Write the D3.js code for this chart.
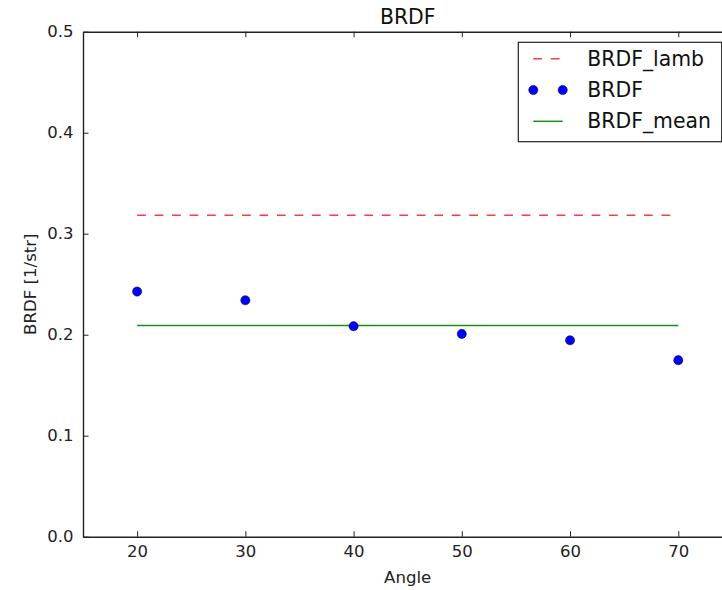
<!DOCTYPE html>
<html>
<head>
<meta charset="utf-8">
<script src="https://cdn.jsdelivr.net/npm/d3@7"></script>
<style>
  html, body { margin: 0; padding: 0; background: #fff; overflow: hidden; }
  svg { display: block; font-family: "DejaVu Sans", sans-serif; }
</style>
</head>
<body>
<svg id="chart" width="722" height="590"></svg>
<script>
// Measured BRDF at each viewing angle
const angles = [20, 30, 40, 50, 60, 70];
const brdf = [0.2427, 0.2341, 0.2084, 0.2008, 0.1945, 0.1748];
// Lambertian reference 1/pi and the mean of the measurements
const brdfLamb = angles.map(() => 1 / Math.PI);
const brdfMeanValue = d3.mean(brdf);
const brdfMean = angles.map(() => brdfMeanValue);

const xTicks = [20, 30, 40, 50, 60, 70];
const yTicks = [0.0, 0.1, 0.2, 0.3, 0.4, 0.5];
const legendLabels = ["BRDF_lamb", "BRDF", "BRDF_mean"];

const red = "#ff3b3b", green = "#1f8c1f", blue = "#0000ff";
const dash = "8.74,8.74";

const svg = d3.select("#chart");
const plotLeft = 83, plotRight = 732.4, plotTop = 31.7, plotBottom = 536.7;

const x = d3.scaleLinear().domain([15, 75]).range([plotLeft, plotRight]);
const y = d3.scaleLinear().domain([0, 0.5]).range([plotBottom, plotTop]);

// Lambertian reference (dashed red)
const line = d3.line().x((d, i) => x(angles[i])).y(d => y(d));
svg.append("path")
  .datum(brdfLamb)
  .attr("d", line)
  .attr("fill", "none")
  .attr("stroke", red)
  .attr("stroke-width", 1.5)
  .attr("stroke-dasharray", dash);

// Mean (solid green)
svg.append("path")
  .datum(brdfMean)
  .attr("d", line)
  .attr("fill", "none")
  .attr("stroke", green)
  .attr("stroke-width", 1.5);

// Measured points
svg.append("g").selectAll("circle")
  .data(brdf)
  .join("circle")
  .attr("cx", (d, i) => x(angles[i]))
  .attr("cy", d => y(d))
  .attr("r", 4.6)
  .attr("fill", blue)
  .attr("stroke", "#000")
  .attr("stroke-width", 0.5);

// Axes with inward ticks on all four sides
function styleAxis(g) {
  g.select(".domain").attr("stroke", "#222").attr("stroke-width", 1.4);
  g.selectAll(".tick line").attr("stroke", "#222").attr("stroke-width", 1);
  g.selectAll(".tick text")
    .attr("fill", "#222")
    .style("font-family", "'DejaVu Sans', sans-serif")
    .style("font-size", "16.5px");
}

svg.append("g")
  .attr("transform", `translate(0,${plotBottom})`)
  .call(d3.axisBottom(x).tickValues(xTicks).tickFormat(d3.format("d"))
    .tickSize(-5.5).tickSizeOuter(0).tickPadding(8.5))
  .call(styleAxis);

svg.append("g")
  .attr("transform", `translate(0,${plotTop})`)
  .call(d3.axisTop(x).tickValues(xTicks).tickFormat("")
    .tickSize(-5.5).tickSizeOuter(0))
  .call(styleAxis);

svg.append("g")
  .attr("transform", `translate(${plotLeft},0)`)
  .call(d3.axisLeft(y).tickValues(yTicks).tickFormat(d3.format(".1f"))
    .tickSize(-5.5).tickSizeOuter(0).tickPadding(9.5))
  .call(styleAxis);

svg.append("g")
  .attr("transform", `translate(${plotRight},0)`)
  .call(d3.axisRight(y).tickValues(yTicks).tickFormat("")
    .tickSize(-5.5).tickSizeOuter(0))
  .call(styleAxis);

// Title and axis labels
svg.append("text")
  .attr("x", (plotLeft + plotRight) / 2).attr("y", 24)
  .attr("text-anchor", "middle")
  .attr("fill", "#111")
  .style("font-size", "20.4px")
  .text("BRDF");

svg.append("text")
  .attr("x", (plotLeft + plotRight) / 2).attr("y", 583)
  .attr("text-anchor", "middle")
  .attr("fill", "#222")
  .style("font-size", "16.6px")
  .text("Angle");

svg.append("text")
  .attr("transform", `translate(36,${(plotTop + plotBottom) / 2}) rotate(-90)`)
  .attr("text-anchor", "middle")
  .attr("fill", "#222")
  .style("font-size", "16.6px")
  .text("BRDF [1/str]");

// Legend
const lg = svg.append("g");
lg.append("rect")
  .attr("x", 518.3).attr("y", 42.3)
  .attr("width", 203.4).attr("height", 99.4)
  .attr("fill", "#fff")
  .attr("stroke", "#222")
  .attr("stroke-width", 1.2);

const rowY = [58.7, 90, 121.3];
const hx0 = 533.3, hx1 = 562.7;

lg.append("line")
  .attr("x1", hx0).attr("x2", hx1 + 0.3)
  .attr("y1", rowY[0]).attr("y2", rowY[0])
  .attr("stroke", red).attr("stroke-width", 1.5)
  .attr("stroke-dasharray", dash);

lg.selectAll("circle.leg")
  .data([hx0, hx1])
  .join("circle")
  .attr("class", "leg")
  .attr("cx", d => d).attr("cy", rowY[1])
  .attr("r", 4.6)
  .attr("fill", blue)
  .attr("stroke", "#000").attr("stroke-width", 0.5);

lg.append("line")
  .attr("x1", hx0).attr("x2", hx1)
  .attr("y1", rowY[2]).attr("y2", rowY[2])
  .attr("stroke", green).attr("stroke-width", 1.5);

lg.selectAll("text.leg")
  .data(legendLabels)
  .join("text")
  .attr("class", "leg")
  .attr("x", 587.3)
  .attr("y", (d, i) => rowY[i] + 7.1)
  .attr("fill", "#111")
  .style("font-size", "20.4px")
  .text(d => d);
</script>
</body>
</html>
